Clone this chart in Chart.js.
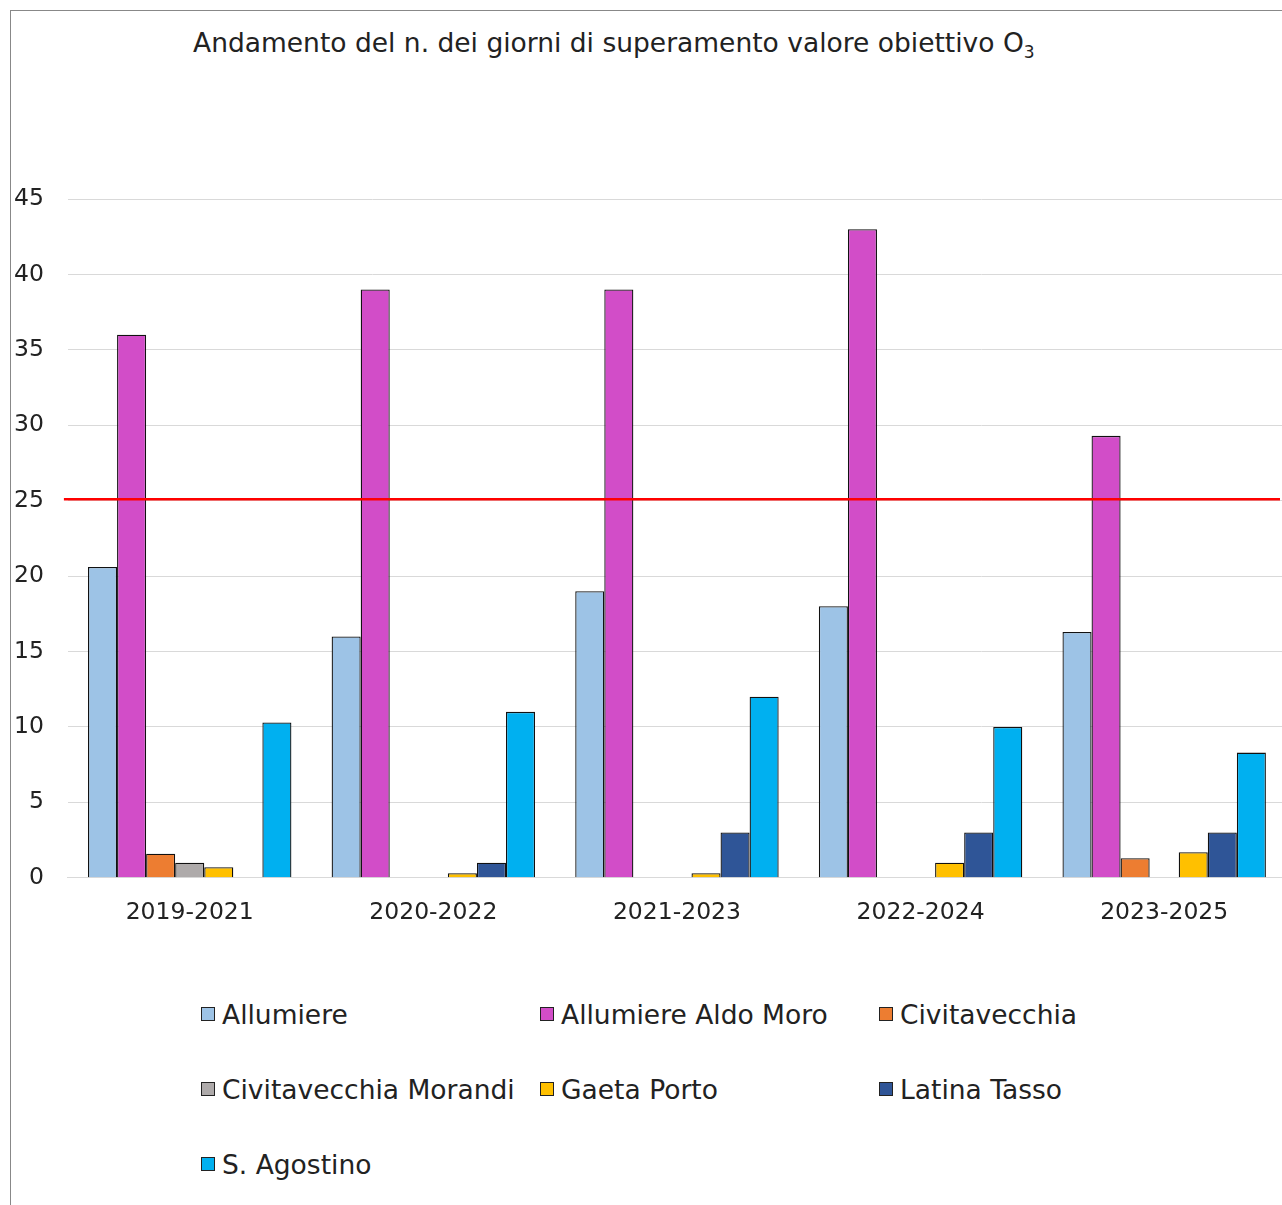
<!DOCTYPE html>
<html>
<head>
<meta charset="utf-8">
<script src="https://cdn.jsdelivr.net/npm/chart.js@4"></script>
<style>
  html, body { margin: 0; padding: 0; background: #fff; overflow: hidden; }
  body { width: 1282px; height: 1205px; position: relative; font-family: "DejaVu Sans", sans-serif; }
  #frame { position: absolute; left: 10px; top: 10px; width: 1300px; height: 1300px; border-left: 1px solid #888; border-top: 1px solid #888; }
  #title { position: absolute; left: 193px; top: 27px; font-size: 26.5px; color: #222; white-space: nowrap; }
  #title sub { font-size: 17px; vertical-align: -6px; }
  #wrap { position: absolute; left: -20px; top: 10px; width: 1306px; height: 960px; }
  #legend { position: absolute; left: 201px; top: 995px; width: 1060px; display: grid; grid-template-columns: 339px 339px 339px; row-gap: 37px; font-size: 26.5px; color: #222; }
  .li { display: flex; align-items: center; white-space: nowrap; height: 38px; }
  .sw { width: 14px; height: 14px; border: 1px solid #222; margin-right: 7px; box-sizing: border-box; }
</style>
</head>
<body>
<div id="frame"></div>
<div id="title">Andamento del n. dei giorni di superamento valore obiettivo O<sub>3</sub></div>
<div id="wrap"><canvas id="c"></canvas></div>
<div id="legend"></div>
<script>
const categories = ["2019-2021", "2020-2022", "2021-2023", "2022-2024", "2023-2025"];
const seriesNames = ["Allumiere", "Allumiere Aldo Moro", "Civitavecchia", "Civitavecchia Morandi", "Gaeta Porto", "Latina Tasso", "S. Agostino"];
const allumiere = [20.6, 16, 19, 18, 16.3];
const allumiereAldoMoro = [36, 39, 39, 43, 29.3];
const civitavecchia = [1.6, 0, 0, 0, 1.3];
const civitavecchiaMorandi = [1, 0, 0, 0, 0];
const gaetaPorto = [0.7, 0.3, 0.3, 1, 1.7];
const latinaTasso = [0, 1, 3, 3, 3];
const sAgostino = [10.3, 11, 12, 10, 8.3];
const seriesColors = ["#9DC3E6", "#D24DC8", "#ED7D31", "#AEAAAA", "#FFC000", "#2F5597", "#00B0F0"];
const yTicks = [0, 5, 10, 15, 20, 25, 30, 35, 40, 45];
const threshold = [25];

const seriesValues = [allumiere, allumiereAldoMoro, civitavecchia, civitavecchiaMorandi, gaetaPorto, latinaTasso, sAgostino];

const thresholdPlugin = {
  id: 'thresholdLine',
  afterDatasetsDraw(chart) {
    const ctx = chart.ctx;
    const y = chart.scales.y.getPixelForValue(threshold[0]) - 1.5;
    ctx.save();
    ctx.strokeStyle = '#FF0000';
    ctx.lineWidth = 2.5;
    ctx.beginPath();
    ctx.moveTo(chart.chartArea.left - 4, y);
    ctx.lineTo(chart.chartArea.right - 6, y);
    ctx.stroke();
    ctx.restore();
  }
};

const chart = new Chart(document.getElementById('c'), {
  type: 'bar',
  data: {
    labels: categories,
    datasets: seriesNames.map((n, i) => ({
      label: n,
      data: seriesValues[i],
      backgroundColor: seriesColors[i],
      borderColor: '#111',
      borderWidth: 1.3,
      borderSkipped: 'bottom'
    }))
  },
  options: {
    responsive: true,
    maintainAspectRatio: false,
    animation: false,
    layout: { padding: { left: 10, right: 0, top: 189, bottom: 22 } },
    plugins: { legend: { display: false }, title: { display: false }, tooltip: { enabled: false } },
    datasets: { bar: { barPercentage: 1.0, categoryPercentage: 0.835 } },
    scales: {
      x: {
        grid: { display: false, drawTicks: false },
        border: { display: true, color: '#d9d9d9', width: 1 },
        ticks: { color: '#222', font: { family: 'DejaVu Sans', size: 23.5 }, padding: 21 }
      },
      y: {
        min: 0, max: 45,
        afterBuildTicks(scale) { scale.ticks = yTicks.map(v => ({ value: v })); },
        grid: { color: '#d9d9d9', lineWidth: 1, drawTicks: false },
        border: { display: false },
        ticks: { color: '#222', font: { family: 'DejaVu Sans', size: 23.5 }, padding: 24 }
      }
    }
  },
  plugins: [thresholdPlugin]
});

const legend = document.getElementById('legend');
chart.data.datasets.forEach(ds => {
  const d = document.createElement('div');
  d.className = 'li';
  const s = document.createElement('span');
  s.className = 'sw';
  s.style.background = ds.backgroundColor;
  d.appendChild(s);
  d.appendChild(document.createTextNode(ds.label));
  legend.appendChild(d);
});
</script>
</body>
</html>
